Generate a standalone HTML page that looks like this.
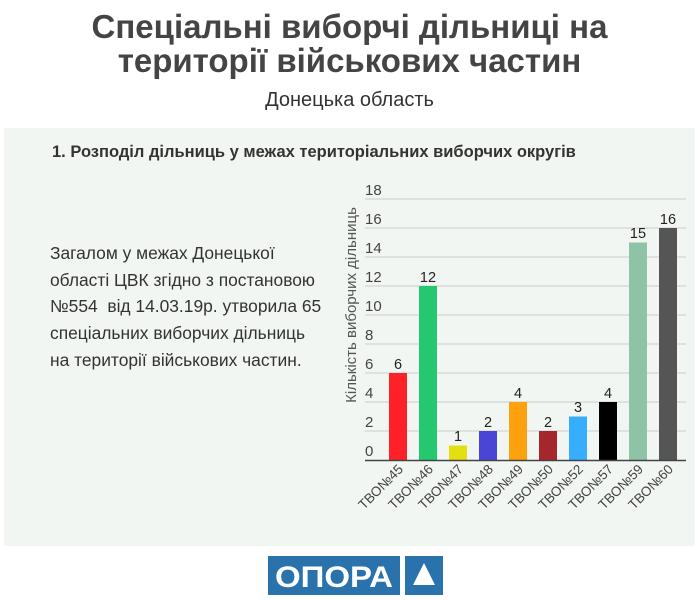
<!DOCTYPE html>
<html><head><meta charset="utf-8"><style>
body{margin:0;width:699px;height:600px;background:#fff;font-family:"Liberation Sans",sans-serif;overflow:hidden;position:relative}
.t{position:absolute;left:0;width:699px;text-align:center;color:#444;font-weight:bold;font-size:33px;line-height:33px}
.panel{position:absolute;left:4px;top:128px;width:691px;height:418px;background:#f2f6f2}
</style></head><body>
<div class="t" style="top:10px">Спеціальні виборчі дільниці на</div>
<div class="t" style="top:44px">території військових частин</div>
<div style="position:absolute;top:89px;width:699px;text-align:center;font-size:20px;color:#333">Донецька область</div>
<div class="panel"></div>
<div style="position:absolute;left:52px;top:143px;font-size:16.5px;font-weight:bold;color:#333">1. Розподіл дільниць у межах територіальних виборчих округів</div>
<div style="position:absolute;left:50px;top:240px;font-size:17.4px;line-height:26.7px;color:#333">Загалом у межах Донецької<br>області ЦВК згідно з постановою<br>№554&nbsp; від 14.03.19р. утворила 65<br>спеціальних виборчих дільниць<br>на території військових частин.</div>
<svg style="position:absolute;left:0;top:0" width="699" height="600" font-family="Liberation Sans, sans-serif">
<g stroke="#ccc" stroke-width="1">
<line x1="365" x2="686" y1="199" y2="199"/><line x1="365" x2="686" y1="228" y2="228"/><line x1="365" x2="686" y1="257" y2="257"/><line x1="365" x2="686" y1="286" y2="286"/><line x1="365" x2="686" y1="315" y2="315"/><line x1="365" x2="686" y1="344" y2="344"/><line x1="365" x2="686" y1="373" y2="373"/><line x1="365" x2="686" y1="402" y2="402"/><line x1="365" x2="686" y1="431" y2="431"/>
</g>
<g font-size="15" fill="#444">
<text x="365" y="195">18</text><text x="365" y="224">16</text><text x="365" y="253">14</text><text x="365" y="282">12</text><text x="365" y="311">10</text><text x="365" y="340">8</text><text x="365" y="369">6</text><text x="365" y="398">4</text><text x="365" y="427">2</text><text x="365" y="456">0</text>
</g>
<text transform="translate(356,305) rotate(-90)" text-anchor="middle" font-size="15" fill="#555">Кількість виборчих дільниць</text>
<g>
<rect x="389" y="373" width="18" height="87" fill="#fe2128"/>
<rect x="419" y="286" width="18" height="174" fill="#24c86f"/>
<rect x="449" y="445.5" width="18" height="14.5" fill="#e2e010"/>
<rect x="479" y="431" width="18" height="29" fill="#4a45d4"/>
<rect x="509" y="402" width="18" height="58" fill="#fea10e"/>
<rect x="539" y="431" width="18" height="29" fill="#a6272b"/>
<rect x="569" y="416.5" width="18" height="43.5" fill="#37adfd"/>
<rect x="599" y="402" width="18" height="58" fill="#000"/>
<rect x="629" y="242.5" width="18" height="217.5" fill="#8fc3a5"/>
<rect x="659" y="228" width="18" height="232" fill="#555"/>
</g>
<line x1="365" x2="686" y1="460.5" y2="460.5" stroke="#444" stroke-width="1.5"/>
<g font-size="14.5" fill="#222" text-anchor="middle">
<text x="398" y="369">6</text><text x="428" y="282">12</text><text x="458" y="441">1</text><text x="488" y="427">2</text><text x="518" y="398">4</text><text x="548" y="427">2</text><text x="578" y="412">3</text><text x="608" y="398">4</text><text x="638" y="238">15</text><text x="668" y="224">16</text>
</g>
<g font-size="13.5" fill="#444" text-anchor="end">
<text transform="translate(404,470) rotate(-45)">ТВО№45</text>
<text transform="translate(434,470) rotate(-45)">ТВО№46</text>
<text transform="translate(464,470) rotate(-45)">ТВО№47</text>
<text transform="translate(494,470) rotate(-45)">ТВО№48</text>
<text transform="translate(524,470) rotate(-45)">ТВО№49</text>
<text transform="translate(554,470) rotate(-45)">ТВО№50</text>
<text transform="translate(584,470) rotate(-45)">ТВО№52</text>
<text transform="translate(614,470) rotate(-45)">ТВО№57</text>
<text transform="translate(644,470) rotate(-45)">ТВО№59</text>
<text transform="translate(674,470) rotate(-45)">ТВО№60</text>
</g>
<rect x="268" y="556" width="132" height="39" fill="#2a72ab"/>
<rect x="405" y="556" width="38" height="39" fill="#2a72ab"/>
<text x="334" y="587" text-anchor="middle" font-size="30" font-weight="bold" fill="#fff" textLength="118" lengthAdjust="spacingAndGlyphs">ОПОРА</text>
<polygon points="424,563 413,585 435,585" fill="#fff"/>
</svg>
</body></html>
